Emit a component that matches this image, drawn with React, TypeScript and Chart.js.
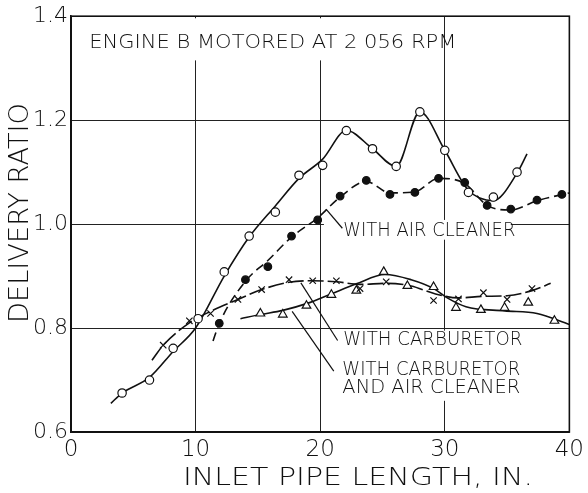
import React, { useEffect, useRef } from 'react';
import { Chart, registerables } from 'chart.js';

Chart.register(...registerables);

// ---- data ----
const xTickValues = [0, 10, 20, 30, 40];
const yTickValues = [0.6, 0.8, 1.0, 1.2, 1.4];

// Open circles: engine alone (solid curve)
const circleX = [4.1, 6.3, 8.2, 10.2, 12.3, 14.3, 16.4, 18.3, 20.2, 22.1, 24.2, 26.1, 28.0, 30.0, 31.9, 33.9, 35.8];
const circleY = [0.675, 0.700, 0.761, 0.818, 0.908, 0.977, 1.023, 1.094, 1.113, 1.180, 1.145, 1.111, 1.216, 1.142, 1.061, 1.052, 1.100];
const circleCurveX = [3.2, 4.1, 6.3, 8.2, 10.0, 12.3, 14.3, 16.4, 18.3, 20.2, 22.1, 24.2, 26.1, 28.0, 30.0, 31.9, 33.9, 35.8, 36.6];
const circleCurveY = [0.655, 0.675, 0.705, 0.755, 0.800, 0.900, 0.975, 1.035, 1.088, 1.125, 1.180, 1.145, 1.111, 1.216, 1.142, 1.065, 1.045, 1.098, 1.135];

// Filled dots: with air cleaner (dashed curve)
const dotX = [11.9, 14.0, 15.8, 17.7, 19.8, 21.6, 23.7, 25.6, 27.6, 29.5, 31.6, 33.4, 35.3, 37.4, 39.4];
const dotY = [0.809, 0.893, 0.918, 0.977, 1.008, 1.054, 1.084, 1.057, 1.061, 1.088, 1.080, 1.036, 1.029, 1.046, 1.057];
const dotCurveX = [11.4, 11.9, 14.0, 15.8, 17.7, 19.8, 21.6, 23.7, 25.6, 27.6, 29.5, 31.6, 33.4, 35.3, 37.4, 40.0];
const dotCurveY = [0.775, 0.809, 0.890, 0.930, 0.975, 1.012, 1.052, 1.082, 1.060, 1.062, 1.088, 1.078, 1.036, 1.027, 1.045, 1.060];

// Crosses: with carburetor (long-dash curve)
const crossX = [7.4, 9.5, 11.2, 13.4, 15.3, 17.5, 19.4, 21.3, 23.2, 25.3, 29.1, 31.1, 33.1, 35.0, 37.0];
const crossY = [0.767, 0.814, 0.828, 0.855, 0.874, 0.893, 0.891, 0.891, 0.876, 0.889, 0.853, 0.856, 0.868, 0.855, 0.876];
const crossCurveX = [6.5, 7.4, 9.5, 11.2, 13.4, 15.3, 17.5, 19.4, 21.3, 23.2, 25.3, 27.3, 29.2, 31.1, 33.1, 35.0, 37.0, 38.5];
const crossCurveY = [0.738, 0.767, 0.810, 0.832, 0.855, 0.874, 0.888, 0.891, 0.889, 0.884, 0.886, 0.881, 0.866, 0.858, 0.861, 0.862, 0.872, 0.886];

// Triangles: with carburetor and air cleaner (solid curve)
const triX = [15.2, 17.0, 18.9, 20.9, 22.9, 25.1, 27.0, 29.1, 30.9, 32.9, 34.8, 36.7, 38.8];
const triY = [0.828, 0.826, 0.843, 0.864, 0.872, 0.908, 0.881, 0.879, 0.839, 0.835, 0.839, 0.849, 0.814];
const triCurveX = [13.6, 15.2, 17.0, 18.9, 20.9, 22.9, 25.2, 27.3, 29.1, 30.2, 31.7, 34.8, 37.4, 40.0];
const triCurveY = [0.818, 0.826, 0.834, 0.847, 0.866, 0.885, 0.903, 0.893, 0.876, 0.858, 0.841, 0.833, 0.828, 0.807];

const titleText = 'ENGINE B MOTORED AT 2 056 RPM';
const xTitle = 'INLET PIPE LENGTH, IN.';
const yTitle = 'DELIVERY RATIO';
const noteAir = 'WITH AIR CLEANER';
const noteCarb = 'WITH CARBURETOR';
const noteCarbAir1 = 'WITH CARBURETOR';
const noteCarbAir2 = 'AND AIR CLEANER';

const FONT = '"DejaVu Sans"';
const WEIGHT = 200;

function pts(xs: number[], ys: number[]) {
  return xs.map((x, i) => ({ x, y: ys[i] }));
}

function fitText(ctx: CanvasRenderingContext2D, text: string, x: number, y: number, w: number, size: number, rotate = false) {
  ctx.save();
  ctx.font = `${WEIGHT} ${size}px ${FONT}`;
  const m = ctx.measureText(text).width;
  ctx.translate(x, y);
  if (rotate) ctx.rotate(-Math.PI / 2);
  ctx.scale(w / m, 1);
  ctx.fillStyle = '#111';
  ctx.textBaseline = 'middle';
  ctx.textAlign = rotate ? 'center' : 'left';
  ctx.fillText(text, 0, 0);
  ctx.restore();
}

const notesPlugin = {
  id: 'notes',
  beforeDatasetsDraw(chart: any) {
    const { ctx } = chart;
    const sx = chart.scales.x;
    const sy = chart.scales.y;
    const box = (x0: number, x1: number, y0: number, y1: number) => {
      const px0 = sx.getPixelForValue(x0);
      const px1 = sx.getPixelForValue(x1);
      const py0 = sy.getPixelForValue(y0);
      const py1 = sy.getPixelForValue(y1);
      ctx.fillRect(px0, py0, px1 - px0, py1 - py0);
    };
    ctx.save();
    ctx.fillStyle = '#ffffff';
    box(0.3, 29.85, 1.396, 1.315);
    box(20.3, 35.3, 1.008, 0.97);
    box(21.2, 36.0, 0.795, 0.66);
    ctx.restore();

    fitText(ctx, titleText, sx.getPixelForValue(1.47), sy.getPixelForValue(1.348), 367, 20);
    fitText(ctx, noteAir, sx.getPixelForValue(21.86), sy.getPixelForValue(0.987), 172, 20);
    fitText(ctx, noteCarb, sx.getPixelForValue(21.86), sy.getPixelForValue(0.778), 179, 20);
    fitText(ctx, noteCarbAir1, sx.getPixelForValue(21.78), sy.getPixelForValue(0.7196), 178, 20);
    fitText(ctx, noteCarbAir2, sx.getPixelForValue(21.78), sy.getPixelForValue(0.685), 178, 20);
  },
  afterDatasetsDraw(chart: any) {
    const { ctx } = chart;
    const sx = chart.scales.x;
    const sy = chart.scales.y;
    const leader = (x0: number, y0: number, x1: number, y1: number) => {
      ctx.beginPath();
      ctx.moveTo(sx.getPixelForValue(x0), sy.getPixelForValue(y0));
      ctx.lineTo(sx.getPixelForValue(x1), sy.getPixelForValue(y1));
      ctx.stroke();
    };
    ctx.save();
    ctx.strokeStyle = '#111';
    ctx.lineWidth = 1.2;
    leader(20.47, 1.029, 21.78, 0.992);
    leader(18.45, 0.887, 21.4, 0.776);
    leader(17.75, 0.832, 21.09, 0.717);
    ctx.restore();
  },
  afterDraw(chart: any) {
    const { ctx, chartArea } = chart;
    ctx.save();
    ctx.strokeStyle = '#111';
    ctx.lineWidth = 1.6;
    ctx.strokeRect(chartArea.left, chartArea.top, chartArea.right - chartArea.left, chartArea.bottom - chartArea.top);
    ctx.restore();
    fitText(ctx, xTitle, 183, 479, 350, 24);
    fitText(ctx, yTitle, 21, 213, 220, 27, true);
  },
};

export default function App() {
  const ref = useRef<HTMLCanvasElement | null>(null);

  useEffect(() => {
    if (!ref.current) return;
    const curve = (xs: number[], ys: number[], dash: number[]) => ({
      data: pts(xs, ys),
      showLine: true,
      borderColor: '#111',
      borderWidth: 1.6,
      borderDash: dash,
      pointRadius: 0,
      pointHoverRadius: 0,
      cubicInterpolationMode: 'monotone',
      fill: false,
      order: 2,
    });
    const marks = (xs: number[], ys: number[], style: string, radius: number, bg: string) => ({
      data: pts(xs, ys),
      showLine: false,
      pointStyle: style,
      pointRadius: radius,
      pointBackgroundColor: bg,
      pointBorderColor: '#111',
      pointBorderWidth: 1.2,
      order: 1,
    });

    const chart = new Chart(ref.current, {
      type: 'scatter',
      data: {
        datasets: [
          curve(circleCurveX, circleCurveY, []),
          curve(dotCurveX, dotCurveY, [9, 5]),
          curve(crossCurveX, crossCurveY, [16, 4]),
          curve(triCurveX, triCurveY, []),
          marks(circleX, circleY, 'circle', 4.2, '#ffffff'),
          marks(dotX, dotY, 'circle', 3.8, '#111111'),
          marks(crossX, crossY, 'crossRot', 4.5, '#111111'),
          marks(triX, triY, 'triangle', 5, '#ffffff'),
        ] as any,
      },
      options: {
        animation: false,
        responsive: false,
        maintainAspectRatio: false,
        layout: { padding: { left: 0, top: 14, right: 1, bottom: 0 } },
        plugins: {
          legend: { display: false },
          tooltip: { enabled: false },
          title: { display: false },
        },
        scales: {
          x: {
            type: 'linear',
            min: 0,
            max: 40,
            afterBuildTicks: (s: any) => {
              s.ticks = xTickValues.map((v) => ({ value: v }));
            },
            afterFit: (s: any) => {
              s.height = 61;
            },
            ticks: {
              color: '#111',
              padding: 4,
              maxRotation: 0,
              font: { family: 'DejaVu Sans', size: 23, weight: 200 as any },
              callback: (v: any) => String(v),
            },
            grid: { color: '#222', lineWidth: 1, drawTicks: false },
            border: { display: true, color: '#111', width: 1.6 },
          },
          y: {
            type: 'linear',
            min: 0.6,
            max: 1.4,
            afterBuildTicks: (s: any) => {
              s.ticks = yTickValues.map((v) => ({ value: v }));
            },
            afterFit: (s: any) => {
              s.width = 71;
            },
            ticks: {
              color: '#111',
              padding: 3,
              font: { family: 'DejaVu Sans', size: 22, weight: 200 as any },
              callback: (v: any) => Number(v).toFixed(1),
            },
            grid: { color: '#222', lineWidth: 1, drawTicks: false },
            border: { display: true, color: '#111', width: 1.6 },
          },
        },
      } as any,
      plugins: [notesPlugin],
    });
    return () => chart.destroy();
  }, []);

  return (
    <div style={{ position: 'absolute', left: 0, top: 0, width: 588, height: 493, background: '#fff' }}>
      <canvas ref={ref} width={588} height={493} style={{ width: 588, height: 493, display: 'block' }} />
    </div>
  );
}
